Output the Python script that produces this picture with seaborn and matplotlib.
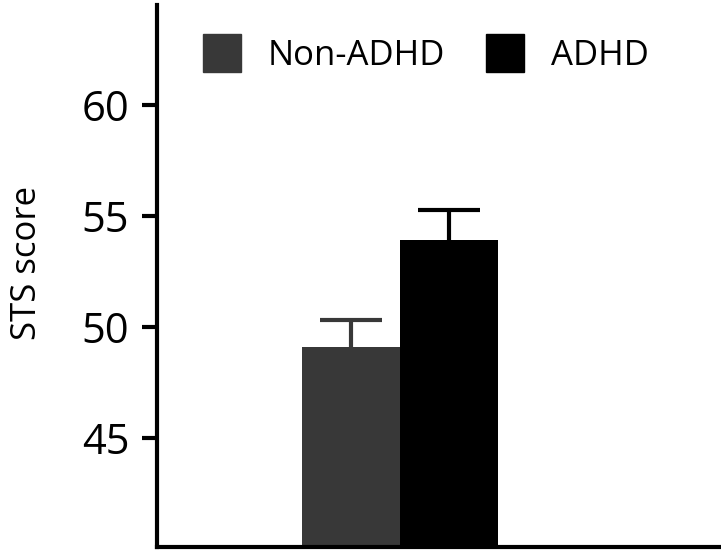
import numpy as np
import pandas as pd
import matplotlib.pyplot as plt
import seaborn as sns
from matplotlib.patches import Patch

# data
groups = ["Non-ADHD", "ADHD"]
means = [49.1, 53.9]
sem = [1.2, 1.35]
colors = ["#383838", "#000000"]
yticks = [45, 50, 55, 60]

df = pd.DataFrame({"group": groups, "score": means})

sns.set_style("ticks")
plt.rcParams["font.family"] = ["Open Sans", "DejaVu Sans"]
plt.rcParams["text.color"] = "black"
plt.rcParams["axes.labelcolor"] = "black"
plt.rcParams["ytick.color"] = "black"

fig = plt.figure(figsize=(7.21, 5.56), dpi=100)
ax = fig.add_axes([0.2178, 0.0162, 0.7822, 0.9748])

sns.barplot(data=df, x="group", y="score", hue="group", palette=colors,
            width=1.0, errorbar=None, legend=False, ax=ax, saturation=1,
            linewidth=0)

# error bars sit behind the bars so only the upper half shows
for i, (m, e, c) in enumerate(zip(means, sem, colors)):
    ax.errorbar(i, m, yerr=e, fmt="none", ecolor=c,
                elinewidth=3, capsize=22, capthick=3, zorder=0.5)

ax.set_ylim(40.1, 64.5)
ax.set_xlim(-1.976, 3.78)
ax.set_yticks(yticks)
ax.set_xticks([])
ax.set_xlabel("")
ax.set_ylabel("STS score", fontsize=25, fontweight="medium")
ax.yaxis.set_label_coords(-0.2, 0.524)
ax.tick_params(axis="y", labelsize=30, width=3, length=11, color="black",
               labelcolor="black", pad=9)
for lbl in ax.get_yticklabels():
    lbl.set_fontweight("medium")

for side in ["top", "right"]:
    ax.spines[side].set_visible(False)
for side in ["left", "bottom"]:
    ax.spines[side].set_linewidth(3)
    ax.spines[side].set_color("black")

handles = [Patch(facecolor=c, edgecolor=c) for c in colors]
ax.legend(handles, groups, ncol=2, frameon=False,
          prop={"size": 25, "weight": "medium"},
          loc="upper left", bbox_to_anchor=(203 / 721, 1 - 34 / 556),
          bbox_transform=fig.transFigure, borderpad=0, borderaxespad=0,
          handlelength=1.1, handleheight=1.3, handletextpad=0.75,
          columnspacing=1.2)

fig.savefig("out.png", dpi=100)
